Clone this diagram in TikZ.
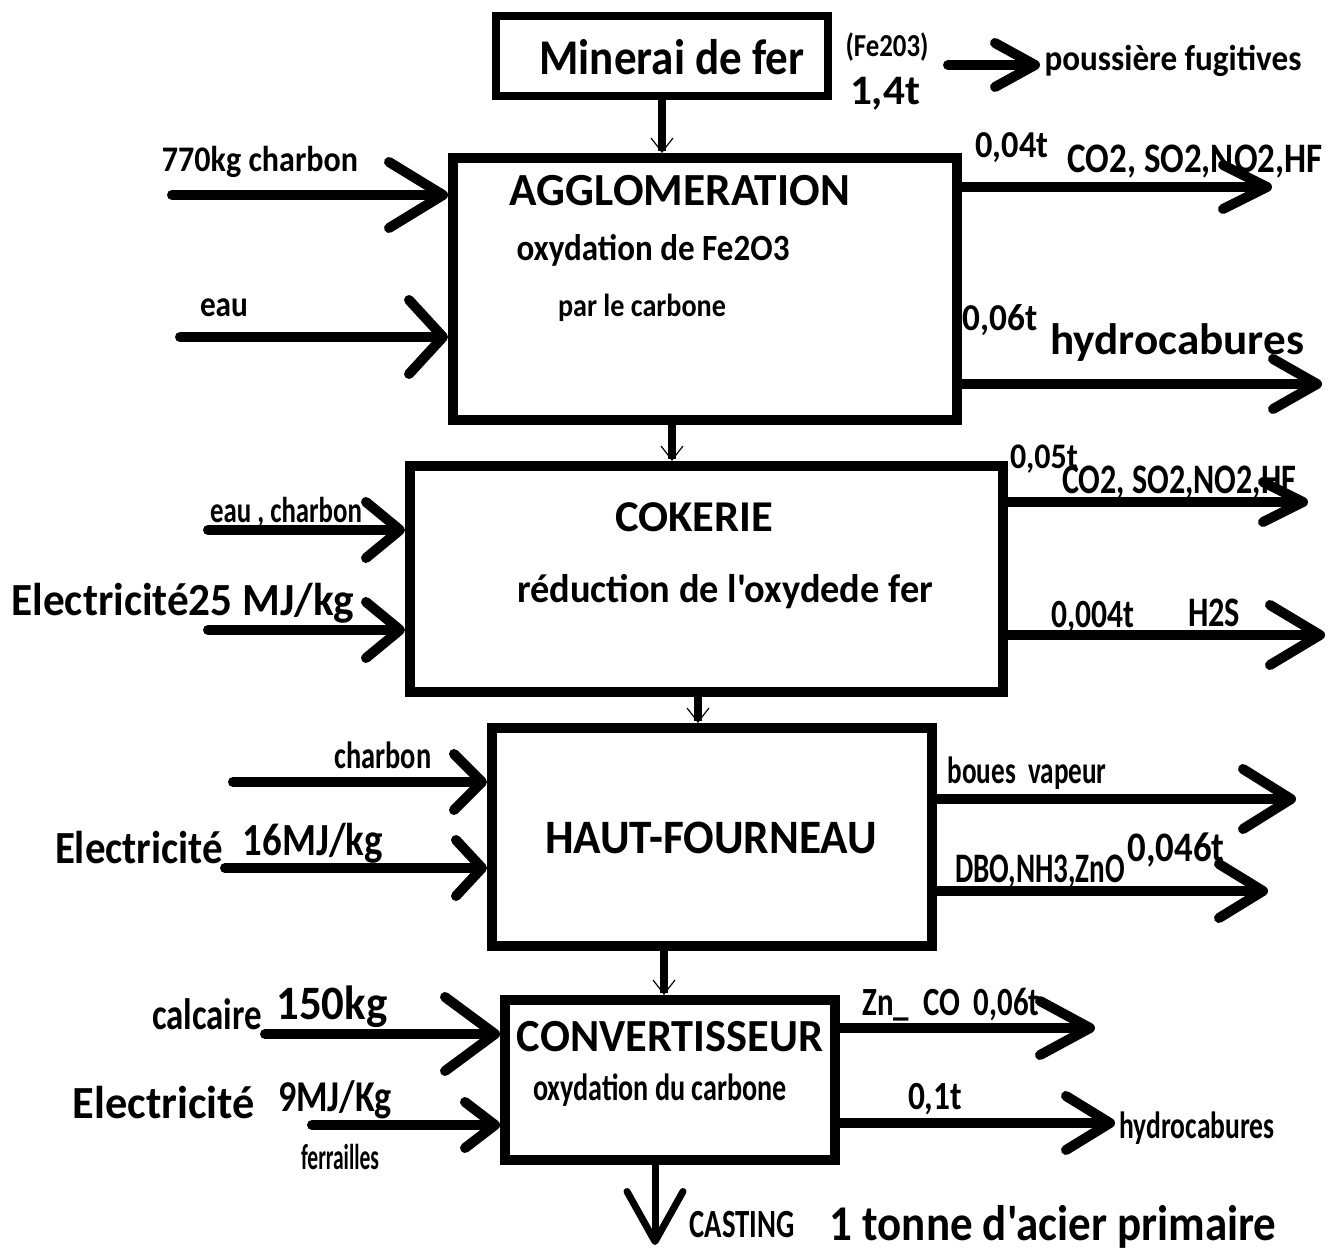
\documentclass[tikz,border=0pt]{standalone}
\usepackage{fontspec}
\setmainfont{Carlito}[Ligatures=TeXOff]
\usetikzlibrary{arrows.meta}
\newlength\pxu \setlength\pxu{0.5pt}
\newcommand\fw[3]{{\fontsize{#2}{#2}\selectfont\bfseries\resizebox{#1\pxu}{\height}{#3}}}
\begin{document}
\begin{tikzpicture}[x=0.5pt,y=-0.5pt,
  box/.style={draw, line width=5pt, inner sep=0pt},
  lbl/.style={inner sep=0pt},
  io/.style 2 args={line width=5pt, line cap=round, -{Straight Barb[round,length=#1pt,width=#2pt]}},
  vconn/.style={line width=4pt, -{Straight Barb[length=7pt,width=11pt,line width=0.6pt]}}]
\useasboundingbox[fill=white] (0,0) rectangle (1338,1251);

% boxes
\node[box, line width=4pt, minimum width=166pt, minimum height=40pt] (min) at (662,56) {};
\node[box, minimum width=252pt, minimum height=131pt] (agg) at (705,289) {};
\node[box, minimum width=296.5pt, minimum height=113pt] (cok) at (706.5,579) {};
\node[box, minimum width=220pt, minimum height=109pt] (hf) at (712,837) {};
\node[box, minimum width=165pt, minimum height=80pt] (conv) at (670,1080) {};

% box texts
\node[lbl] (tmin) at (672,57) {\fw{265}{25}{Minerai de fer}};
\node[lbl] (tagg) at (680,191) {\fw{340}{23}{AGGLOMERATION}};
\node[lbl] (tagg2) at (653,250) {\fw{273}{18.5}{oxydation de Fe2O3}};
\node[lbl] (tagg3) at (642,308) {\fw{168}{16}{par le carbone}};
\node[lbl] (tcok) at (694,517) {\fw{158}{22}{COKERIE}};
\node[lbl] (tcok2) at (725,592) {\fw{416}{20}{réduction de l'oxydede fer}};
\node[lbl] (thf) at (711,838) {\fw{332}{24}{HAUT-FOURNEAU}};
\node[lbl] (tconv) at (670,1037) {\fw{306}{23}{CONVERTISSEUR}};
\node[lbl] (tconv2) at (660,1090) {\fw{254}{19}{oxydation du carbone}};

% vertical connectors
\draw[vconn] (min.south) -- (min.south |- agg.north);
\draw[vconn] ([xshift=-16.5pt]agg.south) -- ([xshift=-16.5pt]agg.south |- cok.north);
\draw[vconn] ([xshift=-4.25pt]cok.south) -- ([xshift=-4.25pt]cok.south |- hf.north);
\draw[vconn] ([xshift=-24pt]hf.south) -- ([xshift=-24pt]hf.south |- conv.north);
\coordinate (cast) at (655,1245);
\draw[line width=3.5pt, line cap=round, -{Straight Barb[round,length=25pt,width=28pt]}] ([xshift=-7.5pt]conv.south) -- ([xshift=-7.5pt]conv.south |- cast);

% top labels
\node[lbl] (fe) at (887,47) {\fw{83}{16}{(Fe203)}};
\node[lbl] (q14) at (885,94) {\fw{70}{21}{1,4t}};
\node[lbl] (pous) at (1173,61) {\fw{257}{18}{poussière fugitives}};
\coordinate (ps) at (948,65);
\coordinate (pe) at (1040,65);
\draw[io={20}{22}] (ps) -- (pe);

% AGGLOMERATION inputs
\node[lbl] (l770) at (260,162) {\fw{196}{18}{770kg charbon}};
\coordinate (i1) at (172,195);
\draw[io={27}{33}] (i1) -- (i1 -| agg.west);
\node[lbl] (leau) at (224,308) {\fw{48}{18}{eau}};
\coordinate (i2) at (180,337);
\draw[io={17}{37}] (i2) -- (i2 -| agg.west);

% AGGLOMERATION outputs
\node[lbl] (l004) at (1012,148) {\fw{73}{19}{0,04t}};
\node[lbl] (lco1) at (1195,162) {\fw{255}{21}{CO2, SO2,NO2,HF}};
\coordinate (o1) at (1272,187);
\draw[io={22}{22}] (agg.east |- o1) -- (o1);
\node[lbl] (l006) at (1000,320) {\fw{75}{19}{0,06t}};
\node[lbl] (lhy1) at (1177,343) {\fw{254}{22}{hydrocabures}};
\coordinate (o2) at (1322,384);
\draw[io={22}{25}] (agg.east |- o2) -- (o2);

% COKERIE inputs
\node[lbl] (lec) at (286,512) {\fw{152}{18}{eau , charbon}};
\coordinate (i3) at (208,530);
\draw[io={17}{28}] (i3) -- (i3 -| cok.west);
\node[lbl] (lel1) at (183,603) {\fw{343}{23}{Electricité25 MJ/kg}};
\coordinate (i4) at (208,630);
\draw[io={17}{28}] (i4) -- (i4 -| cok.west);

% COKERIE outputs
\node[lbl] (l005) at (1044,459) {\fw{68}{18}{0,05t}};
\node[lbl] (lco2) at (1179,483) {\fw{234}{21}{CO2, SO2,NO2,HF}};
\coordinate (o3) at (1308,502);
\draw[io={20}{20}] (cok.east |- o3) -- (o3);
\node[lbl] (l0004) at (1093,617) {\fw{83}{20}{0,004t}};
\node[lbl] (lh2s) at (1214,613) {\fw{52}{21}{H2S}};
\coordinate (o4) at (1325,635);
\draw[io={25}{30}] (cok.east |- o4) -- (o4);

% HAUT-FOURNEAU inputs
\node[lbl] (lch) at (383,755) {\fw{97}{19}{charbon}};
\coordinate (i5) at (233,782);
\draw[io={14}{28}] (i5) -- (i5 -| hf.west);
\node[lbl] (lel2) at (139,848) {\fw{168}{23}{Electricité}};
\node[lbl] (l16) at (313,843) {\fw{140}{23}{16MJ/kg}};
\coordinate (i6) at (225,868);
\draw[io={13}{28}] (i6) -- (i6 -| hf.west);

% HAUT-FOURNEAU outputs
\node[lbl] (lbv) at (1027,773) {\fw{159}{19}{boues\ \ vapeur}};
\coordinate (o5) at (1296,799);
\draw[io={24}{30}] (hf.east |- o5) -- (o5);
\node[lbl] (ldbo) at (1040,872) {\fw{170}{21}{DBO,NH3,ZnO}};
\node[lbl] (l046) at (1176,850) {\fw{97}{21}{0,046t}};
\coordinate (o6) at (1268,891);
\draw[io={22}{27}] (hf.east |- o6) -- (o6);

% CONVERTISSEUR inputs
\node[lbl] (lcal) at (207,1014) {\fw{110}{22}{calcaire}};
\node[lbl] (l150) at (332,1007) {\fw{111}{24}{150kg}};
\coordinate (i7) at (265,1034);
\draw[io={25}{37}] (i7) -- (i7 -| conv.west);
\node[lbl] (lel3) at (164,1103) {\fw{182}{23}{Electricité}};
\node[lbl] (l9) at (335,1100) {\fw{114}{22}{9MJ/Kg}};
\coordinate (i8) at (312,1125);
\draw[io={15}{23}] (i8) -- (i8 -| conv.west);
\node[lbl] (lfer) at (340,1157) {\fw{78}{18}{ferrailles}};

% CONVERTISSEUR outputs
\node[lbl] (lzn) at (951,1005) {\fw{177}{20}{Zn\_ \ CO\ \ 0,06t}};
\coordinate (o7) at (1095,1028);
\draw[io={25}{27}] (conv.east |- o7) -- (o7);
\node[lbl] (l01) at (935,1099) {\fw{54}{20}{0,1t}};
\coordinate (o8) at (1115,1123);
\draw[io={22}{27}] (conv.east |- o8) -- (o8);
\node[lbl] (lhy2) at (1197,1128) {\fw{155}{19}{hydrocabures}};

% bottom
\node[lbl] (lcast) at (742,1225) {\fw{105}{20}{CASTING}};
\node[lbl] (lton) at (1053,1227) {\fw{447}{25}{1 tonne d'acier primaire}};
\end{tikzpicture}
\end{document}
